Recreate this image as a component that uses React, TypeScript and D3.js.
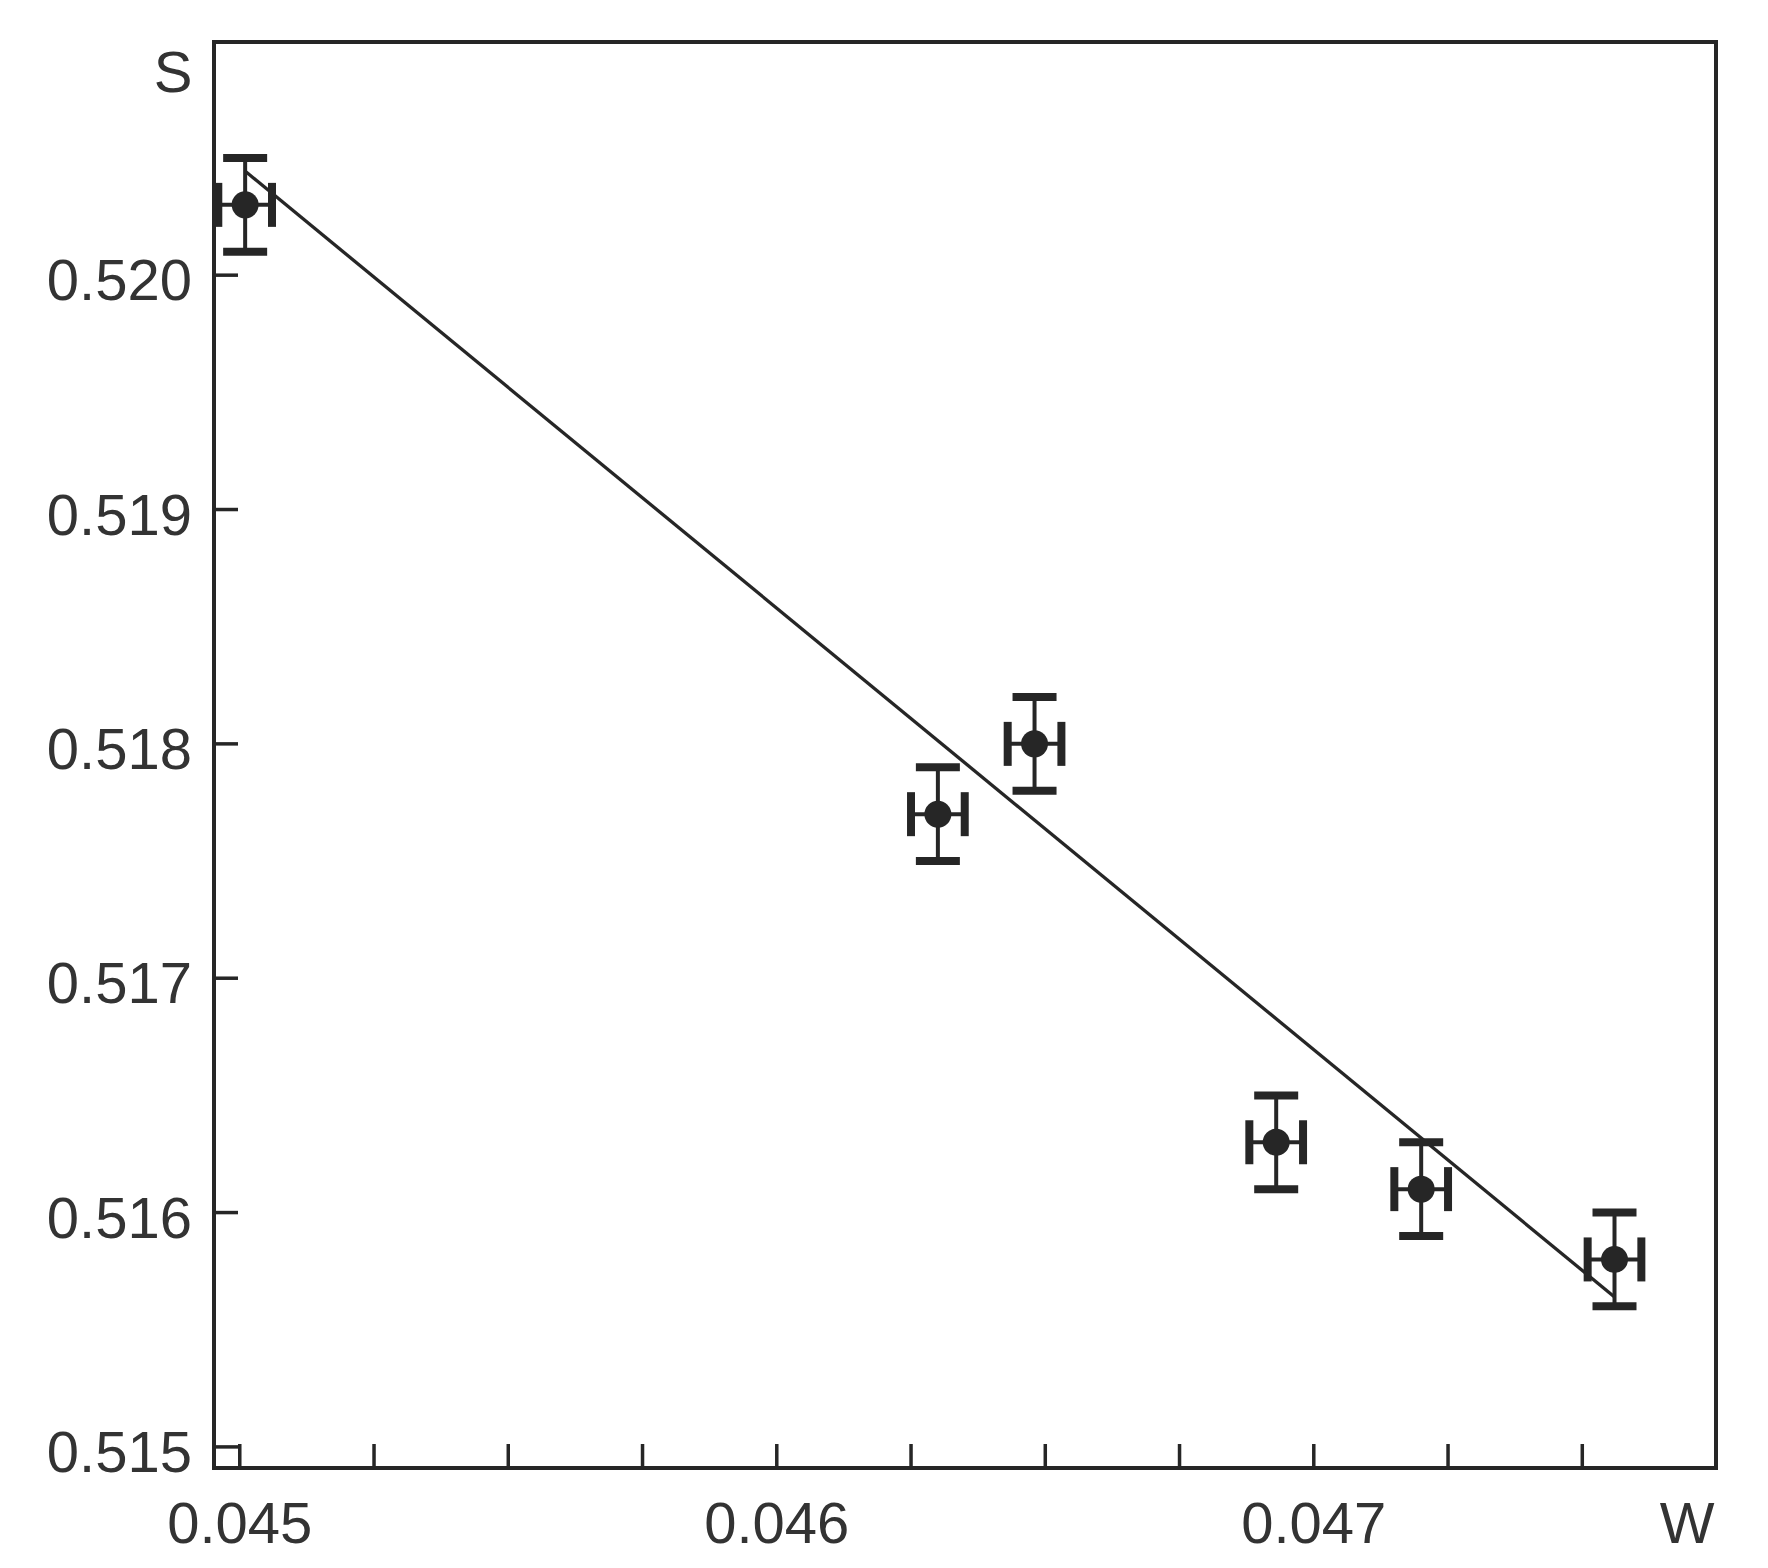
import React from "react";
import * as d3 from "d3";

// Data
const W_VALUES = [0.04501, 0.0463, 0.04648, 0.04693, 0.0472, 0.04756];
const S_VALUES = [0.5203, 0.5177, 0.518, 0.5163, 0.5161, 0.5158];
const W_ERRORS = [0.00005, 0.00005, 0.00005, 0.00005, 0.00005, 0.00005];
const S_ERRORS = [0.0002, 0.0002, 0.0002, 0.0002, 0.0002, 0.0002];
const FIT_W = [0.045012, 0.04756];
const FIT_S = [0.52044, 0.51564];
const Y_TICKS = [0.515, 0.516, 0.517, 0.518, 0.519, 0.52];
const X_MAJOR_TICKS = [0.045, 0.046, 0.047];
const X_MINOR_TICKS = [0.045, 0.04525, 0.0455, 0.04575, 0.046, 0.04625, 0.0465, 0.04675, 0.047, 0.04725, 0.0475];

const WIDTH = 1768;
const HEIGHT = 1568;
const LEFT = 214;
const RIGHT = 1716;
const TOP = 42;
const BOTTOM = 1468;
const INK = "#262626";
const FONT = "'Liberation Sans', Arial, Helvetica, sans-serif";
const FS = 58;

export default function App() {
  const x = d3.scaleLinear().domain([0.044952, 0.047749]).range([LEFT, RIGHT]);
  const y = d3.scaleLinear().domain([0.51491, 0.520995]).range([BOTTOM, TOP]);
  const line = d3
    .line<number>()
    .x((_, i) => x(FIT_W[i]))
    .y((d) => y(d));

  const capHalf = 22;
  return (
    <svg
      width={WIDTH}
      height={HEIGHT}
      style={{ position: "absolute", left: 0, top: 0, background: "#fff" }}
      fontFamily={FONT}
    >
      <rect x={0} y={0} width={WIDTH} height={HEIGHT} fill="#fff" />
      {/* fit line */}
      <path d={line(FIT_S) || ""} fill="none" stroke={INK} strokeWidth={3.3} />
      {/* points with error bars */}
      {W_VALUES.map((w, i) => {
        const cx = x(w);
        const cy = y(S_VALUES[i]);
        const y0 = y(S_VALUES[i] - S_ERRORS[i]);
        const y1 = y(S_VALUES[i] + S_ERRORS[i]);
        const x0 = x(w - W_ERRORS[i]);
        const x1 = x(w + W_ERRORS[i]);
        return (
          <g key={i} stroke={INK}>
            <line x1={cx} x2={cx} y1={y0} y2={y1} strokeWidth={4} />
            <line x1={cx - capHalf} x2={cx + capHalf} y1={y0} y2={y0} strokeWidth={8} />
            <line x1={cx - capHalf} x2={cx + capHalf} y1={y1} y2={y1} strokeWidth={8} />
            <line x1={x0} x2={x1} y1={cy} y2={cy} strokeWidth={4} />
            <line x1={x0} x2={x0} y1={cy - capHalf} y2={cy + capHalf} strokeWidth={8} />
            <line x1={x1} x2={x1} y1={cy - capHalf} y2={cy + capHalf} strokeWidth={8} />
            <circle cx={cx} cy={cy} r={13.5} fill={INK} stroke="none" />
          </g>
        );
      })}
      {/* y ticks */}
      {Y_TICKS.map((t) => (
        <g key={"y" + t}>
          <line x1={LEFT} x2={LEFT + 24} y1={y(t)} y2={y(t)} stroke={INK} strokeWidth={3.5} />
          <text x={192} y={y(t) + 25} textAnchor="end" fontSize={FS} fill="#333">
            {d3.format(".3f")(t)}
          </text>
        </g>
      ))}
      {/* x ticks */}
      {X_MINOR_TICKS.map((t) => (
        <line key={"xm" + t} x1={x(t)} x2={x(t)} y1={BOTTOM} y2={BOTTOM - 24} stroke={INK} strokeWidth={3.5} />
      ))}
      {X_MAJOR_TICKS.map((t) => (
        <text key={"xl" + t} x={x(t)} y={1543} textAnchor="middle" fontSize={FS} fill="#333">
          {d3.format(".3f")(t)}
        </text>
      ))}
      {/* frame */}
      <rect x={LEFT} y={TOP} width={RIGHT - LEFT} height={BOTTOM - TOP} fill="none" stroke={INK} strokeWidth={4} />
      {/* axis names */}
      <text x={173} y={92} textAnchor="middle" fontSize={FS} fill="#333">S</text>
      <text x={1687} y={1543} textAnchor="middle" fontSize={FS} fill="#333">W</text>
    </svg>
  );
}
